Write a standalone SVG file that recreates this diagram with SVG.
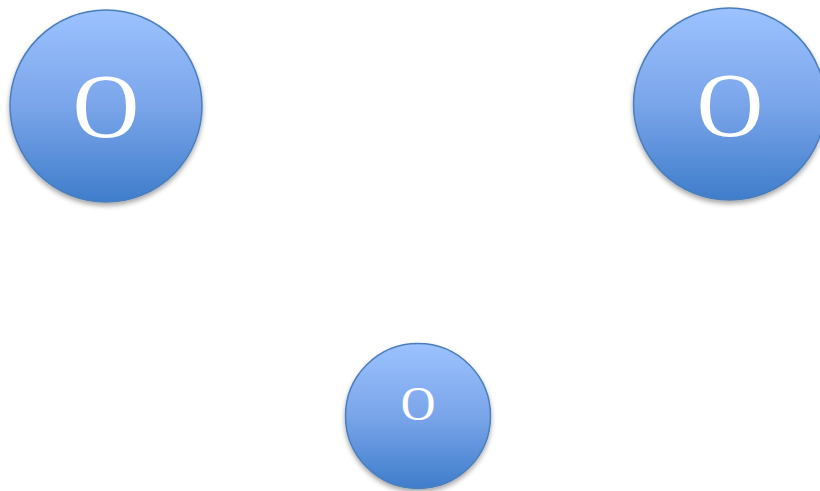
<svg xmlns="http://www.w3.org/2000/svg" width="820" height="491" viewBox="0 0 820 491">
<defs>
<linearGradient id="g" x1="0" y1="0" x2="0" y2="1">
<stop offset="0" stop-color="#9cc2ff"/>
<stop offset="0.5" stop-color="#7aa5ea"/>
<stop offset="1" stop-color="#3f7dcb"/>
</linearGradient>
<filter id="sh" x="-20%" y="-20%" width="140%" height="140%">
<feDropShadow dx="0" dy="3" stdDeviation="2.5" flood-color="#000" flood-opacity="0.35"/>
</filter>
<style>
.n{fill:url(#g);stroke:#4a7ebb;stroke-width:1.5;filter:url(#sh)}
.t{fill:#fff;font-family:"Liberation Serif","Times New Roman",serif;text-anchor:middle}
</style>
</defs>
<rect width="820" height="491" fill="#fff"/>
<g id="connectors"/>
<g id="node1">
<circle class="n" cx="106" cy="106" r="96"/>
<text class="t" x="106" y="136.5" font-size="92">O</text>
</g>
<g id="node2">
<circle class="n" cx="729.5" cy="104" r="96"/>
<text class="t" x="730" y="135.5" font-size="92">O</text>
</g>
<g id="node3">
<circle class="n" cx="418" cy="416" r="72.5"/>
<text class="t" x="418" y="420" font-size="48">O</text>
</g>
</svg>
